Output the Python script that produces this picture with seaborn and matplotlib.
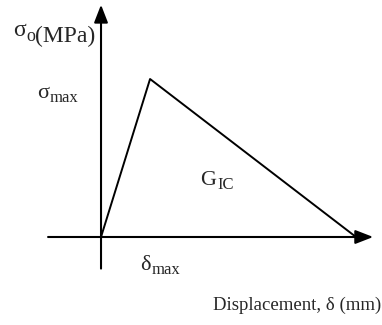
import matplotlib
matplotlib.use("Agg")
import matplotlib.pyplot as plt
import seaborn as sns
import pandas as pd

# schematic bilinear traction-separation law
displacement = [0.0, 1.0, 5.2]
stress = [0.0, 1.0, 0.0]

sns.set_theme(style="white")
plt.rcParams["font.family"] = ["Liberation Serif", "DejaVu Serif"]

df = pd.DataFrame({"d": displacement, "s": stress})

fig = plt.figure(figsize=(3.82, 3.25), dpi=100)
ax = fig.add_axes([0, 0, 1, 1])
sns.lineplot(data=df, x="d", y="s", ax=ax, color="black", lw=1.4, sort=False)
ax.set_xlim(-2.06, 5.73)
ax.set_ylim(-0.557, 1.5)
for sp in ax.spines.values():
    sp.set_visible(False)
ax.set_xticks([]); ax.set_yticks([])
ax.set_xlabel(""); ax.set_ylabel("")

arrow = dict(arrowstyle="-|>,head_length=0.9,head_width=0.35", color="black", lw=1.5,
             shrinkA=0, shrinkB=0)
ax.annotate("", xy=(5.55, 0), xytext=(-1.08, 0), arrowprops=arrow)
ax.annotate("", xy=(0, 1.47), xytext=(0, -0.2), arrowprops=arrow)

FS, SFS = 16, 12


def sub_label(x, y, main, sub, tail="", fs=FS, sfs=SFS):
    t = ax.text(x, y, main, fontsize=fs, ha="left", va="baseline")
    s = ax.annotate(sub, xy=(1, 0), xycoords=t, xytext=(0.3, 0.5),
                    textcoords="offset points", fontsize=sfs, ha="left", va="baseline")
    if tail:
        ax.annotate(tail, xy=(1, 0), xycoords=s, xytext=(0.3, 2.0),
                    textcoords="offset points", fontsize=fs, ha="left", va="baseline")


sub_label(-1.80, 1.27, "σ", "o", "(MPa)", fs=17, sfs=13)
sub_label(-1.31, 0.88, "σ", "max")
sub_label(2.03, 0.33, "G", "IC")
sub_label(0.80, -0.21, "δ", "max")
ax.text(5.72, -0.46, "Displacement, δ (mm)", ha="right", va="baseline", fontsize=13.5)

fig.savefig("out.png", dpi=100)
